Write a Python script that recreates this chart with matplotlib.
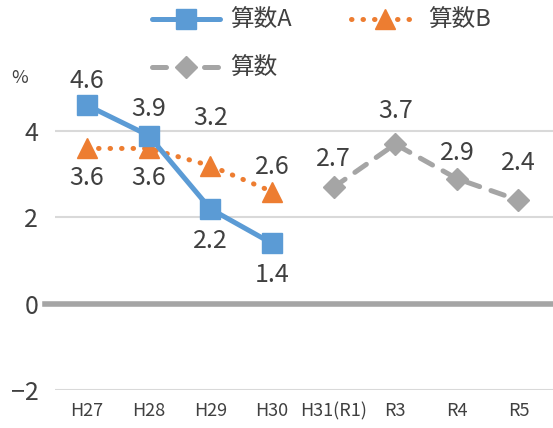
import matplotlib
matplotlib.use("Agg")
import matplotlib.pyplot as plt

plt.rcParams['font.family'] = ['Noto Sans CJK JP', 'DejaVu Sans']

# data
years = ['H27', 'H28', 'H29', 'H30', 'H31(R1)', 'R3', 'R4', 'R5']
math_a = [4.6, 3.9, 2.2, 1.4]
math_b = [3.6, 3.6, 3.2, 2.6]
math_all = [2.7, 3.7, 2.9, 2.4]

# label offsets (pixels, vertical)
off_a = [24, 27, -32, -32]
off_b = [-30, -30, 48, 25]
off_all = [28, 33, 26, 37]

blue = '#5B9BD5'
orange = '#ED7D31'
gray = '#A5A5A5'
txt = '#404040'

fig = plt.figure(figsize=(5.53, 4.28), dpi=100)
ax = fig.add_axes([55 / 553, 38 / 428, 498 / 553, (390 - 66.5) / 428])

xa = list(range(0, 4))
xall = list(range(4, 8))

la, = ax.plot(xa, math_a, color=blue, lw=3.6, marker='s', ms=14,
              solid_capstyle='round', zorder=4)
lb, = ax.plot(xa, math_b, color=orange, lw=3.6, ls=(0, (0.1, 2.2)), marker='^', ms=15,
              dash_capstyle='round', zorder=3)
lc, = ax.plot(xall, math_all, color=gray, lw=3.6, ls=(0, (2.8, 2.4)), marker='D', ms=11,
              dash_capstyle='round', zorder=3)

for xs, vals, offs in [(xa, math_a, off_a), (xa, math_b, off_b), (xall, math_all, off_all)]:
    for x, v, o in zip(xs, vals, offs):
        ax.annotate(f'{v}', (x, v), xytext=(0, o), textcoords='offset pixels',
                    ha='center', va='center', fontsize=18, color=txt, zorder=6)

ax.set_xlim(-0.52, 7.56)
ax.set_ylim(-2, 5.5)
ax.set_yticks([-2, 0, 2, 4])
ax.set_yticklabels(['\u22122', '0', '2', '4'])
ax.set_xticks(range(len(years)))
ax.set_xticklabels(years)
ax.tick_params(axis='y', length=0, pad=12, labelsize=18, labelcolor=txt)
ax.tick_params(axis='x', length=0, pad=9, labelsize=13, labelcolor=txt)
for s in ax.spines.values():
    s.set_visible(False)

for y in [-2, 2, 4]:
    ax.axhline(y, color='#D9D9D9', lw=1.5, zorder=1)
ax.plot([-0.02, 1], [0, 0], transform=ax.get_yaxis_transform(), color=gray,
        lw=4, clip_on=False, zorder=2)

fig.text(20 / 553, 1 - 78 / 428, '%', fontsize=13, color=txt, ha='center', va='center')

fig.legend([la, lc, lb], ['算数A', '算数', '算数B'], ncol=2, frameon=False,
           loc='upper left', bbox_to_anchor=(152 / 553, 1 - 9 / 428),
           borderpad=0, borderaxespad=0, fontsize=17, labelcolor=txt,
           handlelength=2.9, handletextpad=0.4, columnspacing=2.5, labelspacing=1.05)

fig.savefig('out.png', dpi=100)
